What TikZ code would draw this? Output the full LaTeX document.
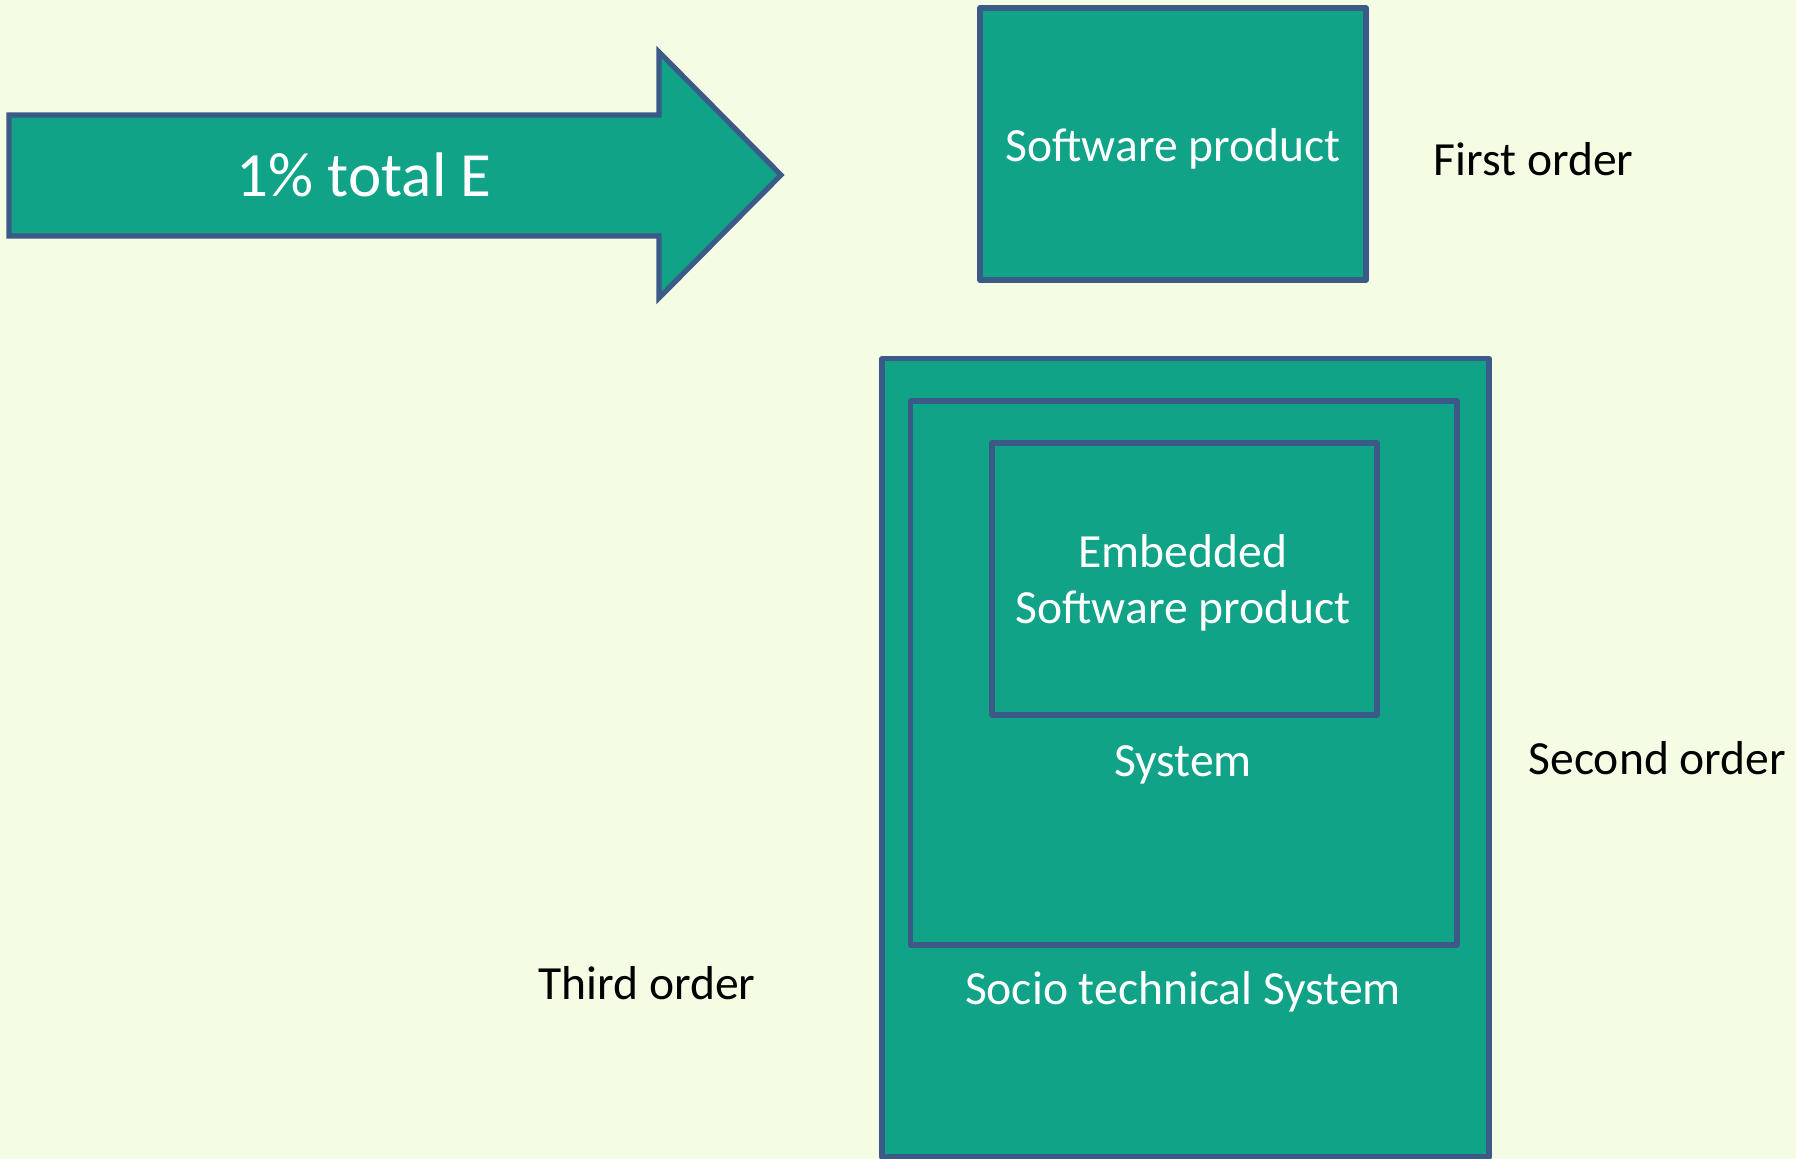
\documentclass[tikz,border=0pt]{standalone}
\usepackage{fontspec}
\setmainfont{Carlito}
\definecolor{bgc}{HTML}{F4FDE4}
\definecolor{tealfill}{HTML}{10A387}
\definecolor{edgeblue}{HTML}{3B5A88}
\tikzset{
  shapebox/.style={fill=tealfill, draw=edgeblue, line width=2.6pt, line join=round},
  whitetxt/.style={text=white, inner sep=0pt, anchor=base, font=\fontsize{23.8}{28.4}\selectfont, align=center},
  blacktxt/.style={text=black, inner sep=0pt, anchor=base, font=\fontsize{23.8}{28.4}\selectfont},
}
\begin{document}
\begin{tikzpicture}[x=0.5pt, y=-0.5pt]
  % page background
  \fill[bgc] (0,0) rectangle (1796,1159);
  \useasboundingbox (0,0) rectangle (1796,1159);

  % block arrow
  \draw[shapebox, line join=miter]
    (9,115) -- (659,115) -- (659,52) -- (781,175) -- (659,298) -- (659,236) -- (9,236) -- cycle;
  \node[whitetxt, font=\fontsize{31.5}{37}\selectfont] (pct) at (364,196.7) {1\% total E};

  % first order: standalone product
  \draw[shapebox] (980,8) rectangle (1366,280);
  \node[whitetxt] (sw) at (1173,161.7) {Software product};
  \node[blacktxt] (first) at (1533.6,176) {First order};

  % nested systems
  \draw[shapebox] (882,358.5) rectangle (1489,1157);
  \draw[shapebox] (910.6,401) rectangle (1457,945);
  \draw[shapebox] (992,443) rectangle (1377,715);
  % base anchor of a two-line node sits on its last line
  \node[whitetxt] (emb) at (1183,624) {Embedded\\Software product};
  \node[whitetxt] (sys) at (1183,776.7) {System};
  \node[whitetxt] (socio) at (1183,1005) {Socio technical System};

  \node[blacktxt] (second) at (1657.4,775) {Second order};
  \node[blacktxt] (third) at (647,1000) {Third order};
\end{tikzpicture}
\end{document}
